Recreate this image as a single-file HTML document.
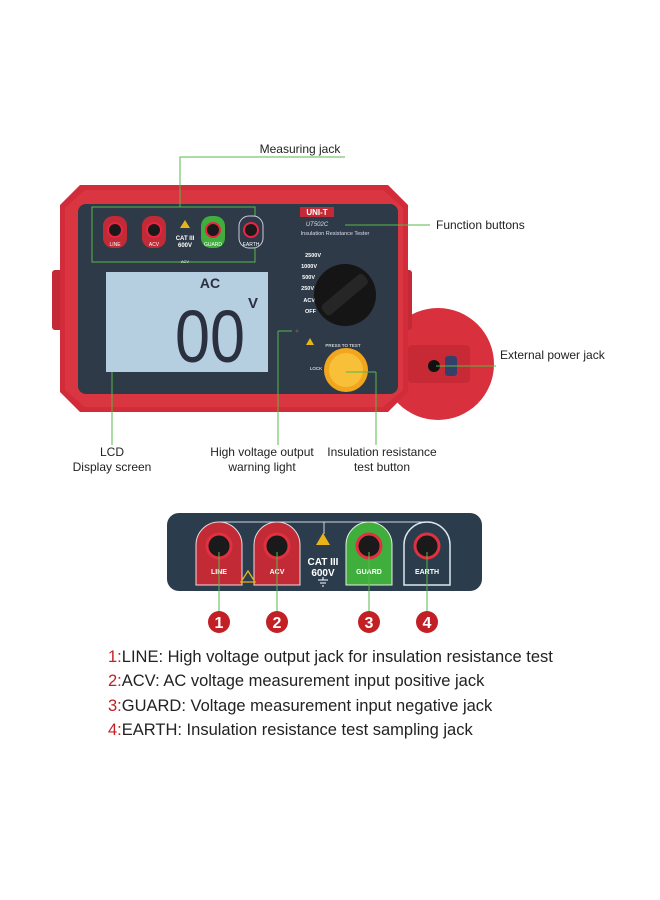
<!DOCTYPE html>
<html><head><meta charset="utf-8"><style>
html,body{margin:0;padding:0;background:#fff;}
svg{display:block;font-family:"Liberation Sans",Arial,sans-serif;}
</style></head><body>
<svg width="660" height="900" viewBox="0 0 660 900" xmlns="http://www.w3.org/2000/svg">
<rect width="660" height="900" fill="#fff"/>
<!-- side circle -->
<circle cx="438" cy="364" r="56" fill="#d8313d"/>
<rect x="408" y="345" width="62" height="38" rx="4" fill="#c72a35"/>
<circle cx="434" cy="366" r="6" fill="#111"/>
<rect x="445" y="356" width="12" height="20" rx="3" fill="#34406a"/>
<!-- body -->
<rect x="52" y="270" width="12" height="60" rx="3" fill="#c42a35"/>
<rect x="400" y="270" width="12" height="60" rx="3" fill="#c42a35"/>
<path d="M80 185 L388 185 L408 205 L408 392 L388 412 L80 412 L60 392 L60 205 Z" fill="#d22c3a"/>
<path d="M85 190 L383 190 L403 208 L403 390 L383 407 L85 407 L65 390 L65 208 Z" fill="#e0404a" opacity="0.5"/>
<rect x="78" y="204" width="320" height="190" rx="8" fill="#2e3a48"/>
<!-- jacks top -->
<rect x="92" y="207" width="163" height="55" fill="none" stroke="#54b848" stroke-width="1"/>
<g>
<rect x="103" y="216" width="24" height="32" rx="10" fill="#c22b36"/><circle cx="115" cy="230" r="7" fill="#1a1a1a" stroke="#e24" stroke-width="2"/>
<rect x="142" y="216" width="24" height="32" rx="10" fill="#c22b36"/><circle cx="154" cy="230" r="7" fill="#1a1a1a" stroke="#e24" stroke-width="2"/>
<rect x="201" y="216" width="24" height="32" rx="10" fill="#3fae3c"/><circle cx="213" cy="230" r="7" fill="#1a1a1a" stroke="#e24" stroke-width="2"/>
<rect x="239" y="216" width="24" height="32" rx="10" fill="#2e3a48" stroke="#ccd" stroke-width="1"/><circle cx="251" cy="230" r="7" fill="#1a1a1a" stroke="#e24" stroke-width="2"/>
<text x="115" y="246" font-size="5" fill="#fff" text-anchor="middle">LINE</text>
<text x="154" y="246" font-size="5" fill="#fff" text-anchor="middle">ACV</text>
<text x="213" y="246" font-size="5" fill="#fff" text-anchor="middle">GUARD</text>
<text x="251" y="246" font-size="5" fill="#fff" text-anchor="middle">EARTH</text>
<text x="185" y="240" font-size="6" font-weight="bold" fill="#fff" text-anchor="middle">CAT III</text>
<text x="185" y="247" font-size="6" font-weight="bold" fill="#fff" text-anchor="middle">600V</text>
<text x="185" y="263" font-size="4" fill="#fff" text-anchor="middle">ACV</text>
<path d="M185 220 l5 8 h-10z" fill="#e8b417"/>
</g>
<!-- logo -->
<rect x="300" y="207" width="34" height="10" fill="#c22b36"/>
<text x="317" y="215" font-size="8" font-weight="bold" fill="#fff" text-anchor="middle">UNI-T</text>
<text x="317" y="226" font-size="6" font-style="italic" fill="#dde" text-anchor="middle">UT502C</text>
<text x="335" y="235" font-size="5.5" fill="#dde" text-anchor="middle">Insulation Resistance Tester</text>
<g font-size="5.5" font-weight="bold" fill="#fff" text-anchor="end">
<text x="321" y="257">2500V</text><text x="317" y="268">1000V</text><text x="315" y="279">500V</text><text x="314" y="290">250V</text><text x="315" y="302">ACV</text><text x="316" y="313">OFF</text>
</g>
<circle cx="345" cy="295" r="31" fill="#151515"/>
<rect x="318" y="288" width="54" height="13" rx="4" fill="#262626" transform="rotate(-40 345 295)"/>
<!-- LCD -->
<rect x="106" y="272" width="162" height="100" fill="#b6cfe0"/>
<text x="210" y="288" font-size="14" font-weight="bold" fill="#2a3040" text-anchor="middle">AC</text>
<text x="210" y="362" font-size="74" fill="#2a3040" text-anchor="middle" font-family="Liberation Sans Narrow,Liberation Sans,sans-serif" transform="translate(210 0) scale(0.85 1) translate(-210 0)">00</text>
<text x="253" y="308" font-size="15" font-weight="bold" fill="#2a3040" text-anchor="middle">V</text>
<circle cx="297" cy="331" r="1.5" fill="#555"/>
<!-- knob -->
<text x="343" y="347" font-size="4.5" fill="#fff" text-anchor="middle">PRESS TO TEST</text>
<circle cx="346" cy="370" r="22" fill="#f2a61e"/>
<circle cx="346" cy="370" r="17" fill="#f7c038"/>
<text x="316" y="370" font-size="4.5" fill="#fff" text-anchor="middle">LOCK</text>
<path d="M310 338 l4 7 h-8z" fill="#e8b417"/>
<!-- leader lines -->
<g stroke="#54b848" stroke-width="1" fill="none">
<path d="M180 207 V157 H345"/>
<path d="M345 225 H430"/>
<path d="M436 366 H496"/>
<path d="M112 372 V445"/>
<path d="M278 331 H292 M278 331 V445"/>
<path d="M376 372 V445 M346 372 H376"/>
</g>
<g font-size="12" fill="#222">
<text x="300" y="153" text-anchor="middle">Measuring jack</text>
<text x="436" y="229">Function buttons</text>
<text x="500" y="359">External power jack</text>
<text x="112" y="456" text-anchor="middle">LCD</text>
<text x="112" y="471" text-anchor="middle">Display screen</text>
<text x="262" y="456" text-anchor="middle">High voltage output</text>
<text x="262" y="471" text-anchor="middle">warning light</text>
<text x="382" y="456" text-anchor="middle">Insulation resistance</text>
<text x="382" y="471" text-anchor="middle">test button</text>
</g>
<!-- bottom panel -->
<rect x="167" y="513" width="315" height="78" rx="12" fill="#2b3c4d"/>
<path d="M220 530 V522 H428 V530 M324 522 V534" stroke="#ccd8e4" stroke-width="1" fill="none"/>
<g>
<path d="M196 585 V545 a23 23 0 0 1 46 0 V585 Z" fill="#c22b36" stroke="#e8dce0" stroke-width="1"/>
<circle cx="219" cy="546" r="12" fill="#1a1a1a" stroke="#e23040" stroke-width="3"/>
<path d="M254 585 V545 a23 23 0 0 1 46 0 V585 Z" fill="#c22b36" stroke="#e8dce0" stroke-width="1"/>
<circle cx="277" cy="546" r="12" fill="#1a1a1a" stroke="#e23040" stroke-width="3"/>
<path d="M346 585 V545 a23 23 0 0 1 46 0 V585 Z" fill="#3fae3c" stroke="#e8f0e0" stroke-width="1"/>
<circle cx="369" cy="546" r="12" fill="#1a1a1a" stroke="#e23040" stroke-width="3"/>
<path d="M404 585 V545 a23 23 0 0 1 46 0 V585 Z" fill="#2b3c4d" stroke="#dde6ee" stroke-width="1.5"/>
<circle cx="427" cy="546" r="12" fill="#1a1a1a" stroke="#e23040" stroke-width="3"/>
<g font-size="7" font-weight="bold" fill="#fff" text-anchor="middle">
<text x="219" y="574">LINE</text><text x="277" y="574">ACV</text><text x="369" y="574">GUARD</text><text x="427" y="574">EARTH</text>
</g>
<path d="M323 533 l7 12 h-14z" fill="#e8b417"/>
<text x="323" y="565" font-size="10" font-weight="bold" fill="#fff" text-anchor="middle">CAT III</text>
<text x="323" y="576" font-size="10" font-weight="bold" fill="#fff" text-anchor="middle">600V</text>
<path d="M318 580 h10 M320 583 h6 M322 586 h2 M323 577 v3" stroke="#fff" stroke-width="1"/>
<path d="M248 571 l7 11 h-14z" fill="none" stroke="#e8b417" stroke-width="1.3"/>
</g>
<g stroke="#54b848" stroke-width="1">
<path d="M219 552 V612 M277 552 V612 M369 552 V612 M427 552 V612"/>
</g>
<g font-size="16" font-weight="bold" fill="#fff" text-anchor="middle">
<circle cx="219" cy="622" r="11" fill="#c22025"/><text x="219" y="628">1</text>
<circle cx="277" cy="622" r="11" fill="#c22025"/><text x="277" y="628">2</text>
<circle cx="369" cy="622" r="11" fill="#c22025"/><text x="369" y="628">3</text>
<circle cx="427" cy="622" r="11" fill="#c22025"/><text x="427" y="628">4</text>
</g>
<g font-size="16.5" fill="#222">
<text x="108" y="662"><tspan fill="#c22025">1:</tspan>LINE: High voltage output jack for insulation resistance test</text>
<text x="108" y="686"><tspan fill="#c22025">2:</tspan>ACV: AC voltage measurement input positive jack</text>
<text x="108" y="711"><tspan fill="#c22025">3:</tspan>GUARD: Voltage measurement input negative jack</text>
<text x="108" y="735"><tspan fill="#c22025">4:</tspan>EARTH: Insulation resistance test sampling jack</text>
</g>
</svg>
</body></html>
